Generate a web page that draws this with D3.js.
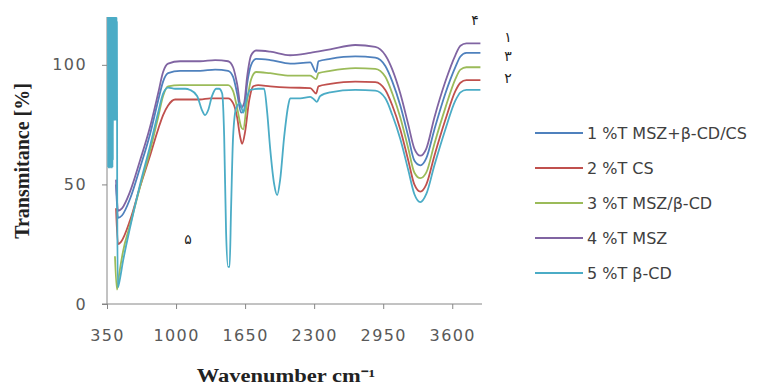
<!DOCTYPE html>
<html>
<head>
<meta charset="utf-8">
<script src="https://cdn.jsdelivr.net/npm/d3@7"></script>
<style>
  html, body { margin: 0; padding: 0; background: #fff; }
  svg { display: block; }
</style>
</head>
<body>
<svg id="chart" width="766" height="385"></svg>
<script>
// ---------- DATA ----------
const seriesNames = ["1 %T MSZ+\u03B2-CD/CS", "2 %T CS", "3 %T MSZ/\u03B2-CD", "4 %T MSZ", "5 %T \u03B2-CD"];
const seriesColors = ["#4F81BD", "#C0504D", "#9BBB59", "#8064A2", "#4BACC6"];
const xTicks = [350, 1000, 1650, 2300, 2950, 3600];
const yTicks = [0, 50, 100];

// [wavenumber, transmittance]
const s1 = [[435,50],[454,36],[491,37],[567,44],[661,57],[755,71],[831,85],[878,93],[925,96.5],[1038,97.5],[1226,97.5],[1368,98],[1490,97.5],[1537,95],[1575,88],[1613,80],[1641,81],[1669,92],[1707,100],[1754,102.5],[1886,102],[2074,100.5],[2263,101],[2319,97],[2340,101.5],[2451,102.5],[2687,103.5],[2875,103],[2970,99.5],[3036,93],[3111,83],[3186,70],[3243,60],[3300,58],[3356,61],[3432,73],[3535,88],[3629,99],[3677,103.5],[3733,105],[3865,105]];
const s2 = [[435,40],[454,25],[482,26],[567,35],[661,49],[755,62],[831,73],[878,79],[925,83],[991,85.5],[1226,85.5],[1321,86],[1490,86],[1537,84],[1575,78],[1603,70],[1622,67],[1650,72],[1688,85],[1726,91],[1773,91.5],[1886,91],[2074,90.5],[2263,90.3],[2319,88],[2340,91],[2451,92],[2687,93],[2875,92.8],[2970,89.5],[3036,83],[3111,73],[3186,60],[3243,50],[3300,47],[3356,50],[3432,62],[3535,77],[3629,89],[3677,92.5],[3733,93.6],[3865,93.6]];
const s3 = [[425,20],[444,6],[463,12],[501,22],[567,33],[661,49],[755,64],[831,78],[878,87],[925,91],[1038,91.5],[1226,91.5],[1368,91.5],[1490,91.5],[1537,89],[1575,82],[1613,74],[1632,73],[1669,85],[1707,94],[1754,97],[1886,96.5],[2074,95.5],[2263,95.5],[2319,94],[2340,96.5],[2451,97.5],[2687,98.6],[2875,98.3],[2970,95],[3036,88],[3111,78],[3186,65],[3243,55],[3300,52.6],[3356,55],[3432,67],[3535,82],[3629,94],[3677,98],[3733,99],[3865,99]];
const s4 = [[435,52],[454,39],[491,40],[567,47],[661,60],[755,74],[831,88],[878,97],[925,100.5],[1038,101.5],[1226,101.5],[1368,102],[1490,101.5],[1537,99],[1575,92],[1613,82],[1641,84],[1669,95],[1707,104],[1754,106],[1886,105.5],[2074,104],[2263,105],[2451,106.5],[2687,108.3],[2875,107.5],[2970,104],[3036,98],[3111,88],[3186,75],[3243,65],[3300,62],[3356,65],[3432,78],[3535,93],[3629,104],[3677,108],[3733,109],[3865,109]];
const s5 = [[359,120],[361,57],[363,120],[365,57],[367,120],[369,57],[371,120],[373,57],[375,120],[377,57],[379,120],[381,57],[383,120],[385,57],[387,120],[389,57],[391,120],[393,57],[395,120],[397,57],[399,120],[401,57],[403,120],[405,60],[407,120],[409,77],[411,120],[413,77],[415,120],[417,77],[419,120],[421,77],[423,120],[425,77],[427,120],[429,77],[431,120],[433,77],[435,120],[437,77],[439,120],[441,77],[443,118],[446,45],[452,7],[465,9],[501,18],[567,32],[661,50],[755,66],[831,80],[878,88],[925,90.5],[991,90],[1085,90],[1132,89.5],[1198,87],[1245,81],[1273,79],[1302,81],[1339,87],[1377,90],[1405,90],[1434,88],[1453,70],[1471,30],[1490,15.5],[1504,15.5],[1518,40],[1537,70],[1566,82],[1603,84],[1632,80],[1660,85],[1698,89.5],[1773,90],[1829,90],[1858,80],[1886,65],[1924,50],[1952,45.5],[1980,52],[2018,70],[2056,83],[2074,86],[2169,86],[2263,86.6],[2300,85.5],[2325,84.5],[2357,87],[2451,88.5],[2687,89.5],[2875,89.2],[2970,86],[3036,79],[3111,69],[3186,56],[3243,46],[3300,42.6],[3356,46],[3432,58],[3535,73],[3629,85],[3677,88.5],[3733,89.5],[3865,89.5]];
const seriesData = [s1, s2, s3, s4, s5];

// Persian numeral annotations
const annoLabels = ["\u06F4", "\u06F1", "\u06F3", "\u06F2", "\u06F5"];

// ---------- CHART ----------
const svg = d3.select("#chart");
const x = d3.scaleLinear().domain([350, 3880]).range([107, 482]);
const y = d3.scaleLinear().domain([0, 120]).range([304, 17]);
const axisColor = "#868686";
const tickTextColor = "#595959";

svg.append("clipPath").attr("id", "clip").append("rect")
  .attr("x", x.range()[0]).attr("y", y(120)).attr("width", x.range()[1] - x.range()[0]).attr("height", y(0) - y(120));

// axes
const xAxis = svg.append("g").attr("transform", `translate(0,${y(0)})`)
  .call(d3.axisBottom(x).tickValues(xTicks).tickSize(5).tickSizeOuter(0).tickPadding(21).tickFormat(d3.format("d")));
const yAxis = svg.append("g").attr("transform", `translate(${x(350)},0)`)
  .call(d3.axisLeft(y).tickValues(yTicks).tickSize(5).tickSizeOuter(0).tickPadding(15).tickFormat(d3.format("d")));
[xAxis, yAxis].forEach(g => {
  g.select(".domain").attr("stroke", axisColor).attr("stroke-width", 1);
  g.selectAll(".tick line").attr("stroke", axisColor);
  g.selectAll(".tick text").attr("fill", tickTextColor)
    .style("font-family", "'DejaVu Sans', Verdana, sans-serif").style("font-size", "16px")
    .style("letter-spacing", "1.4px");
});
yAxis.select(".domain").attr("d", `M-5,${y(0)}H0V${y(120)}`);
xAxis.select(".domain").attr("d", `M${x(350)},0H${x(3880)}`);

// lines
const line = d3.line().x(d => x(d[0])).y(d => y(d[1])).curve(d3.curveMonotoneX);
const plot = svg.append("g").attr("clip-path", "url(#clip)");
seriesData.forEach((data, i) => {
  plot.append("path").datum(data)
    .attr("fill", "none").attr("stroke", seriesColors[i]).attr("stroke-width", 1.8)
    .attr("stroke-linejoin", "round").attr("d", line);
});

// axis titles
svg.append("text").attr("transform", "translate(29,161) rotate(-90)")
  .attr("text-anchor", "middle").attr("fill", "#222")
  .style("font-family", "'Liberation Serif', 'Times New Roman', serif").style("font-weight", "bold").style("font-size", "20px")
  .text("Transmitance [%]");
svg.append("text").attr("transform", "translate(286,382) scale(1.25,1)")
  .attr("text-anchor", "middle").attr("fill", "#222")
  .style("font-family", "'Liberation Serif', 'Times New Roman', serif").style("font-weight", "bold").style("font-size", "18px")
  .text("Wavenumber cm\u207B\u00B9");

// legend
const legend = svg.append("g");
seriesNames.forEach((name, i) => {
  const ly = 133 + i * 35;
  legend.append("line").attr("x1", 535).attr("x2", 583).attr("y1", ly).attr("y2", ly)
    .attr("stroke", seriesColors[i]).attr("stroke-width", 2);
  legend.append("text").attr("x", 587).attr("y", ly + 6).attr("fill", "#404040")
    .style("font-family", "'DejaVu Sans', Verdana, sans-serif").style("font-size", "16px")
    .text(name);
});

// annotations
const annoPos = [[475, 25], [508, 42], [508, 61], [508, 83], [188, 244]];
annoLabels.forEach((t, i) => {
  svg.append("text").attr("x", annoPos[i][0]).attr("y", annoPos[i][1])
    .attr("text-anchor", "middle").attr("fill", "#222")
    .style("font-family", "'DejaVu Sans', 'Noto Sans', sans-serif").style("font-size", "14px")
    .text(t);
});
</script>
</body>
</html>
